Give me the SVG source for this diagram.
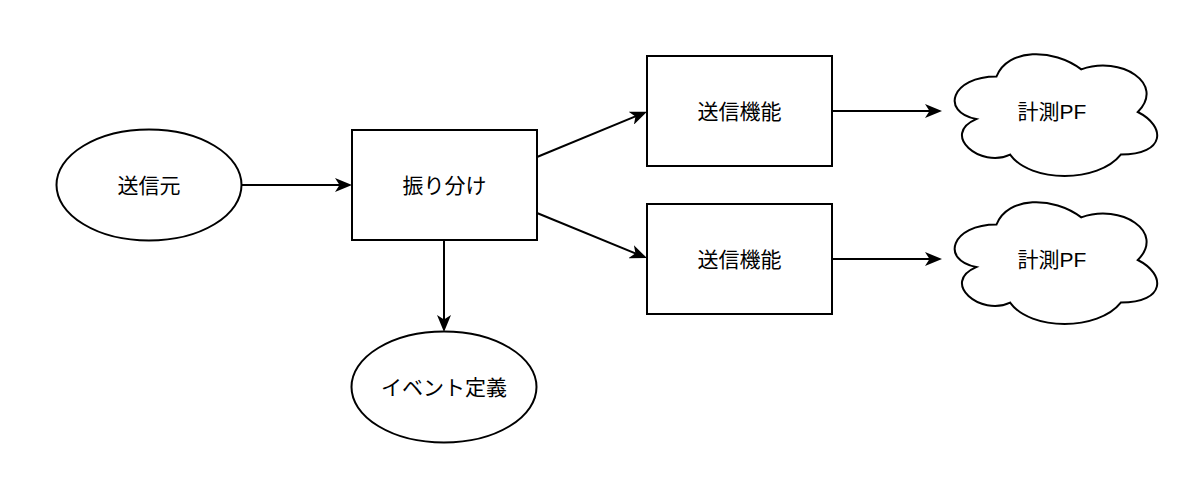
<svg xmlns="http://www.w3.org/2000/svg" width="1200" height="498" viewBox="0 0 1200 498">
<style>
.shape{fill:#fff;stroke:#000;stroke-width:2}
.edge{fill:none;stroke:#000;stroke-width:2}
.lbl{font-family:"Liberation Sans","Noto Sans CJK JP",sans-serif;font-size:21px;fill:#000;text-anchor:middle;dominant-baseline:central}
</style>
<defs>
<marker id="arr" markerUnits="userSpaceOnUse" markerWidth="17" markerHeight="14" viewBox="0 0 17 14" refX="13" refY="7" orient="auto">
<path d="M0,0 L17,7 L0,14 L4.5,7 Z" fill="#000"/>
</marker>
</defs>
<rect width="1200" height="498" fill="#fff"/>
<g id="edges">
<path class="edge" d="M242,185 L348,185" marker-end="url(#arr)"/>
<path class="edge" d="M444,240 L444,328" marker-end="url(#arr)"/>
<path class="edge" d="M537,157 L643.3,113.2" marker-end="url(#arr)"/>
<path class="edge" d="M537,213 L643.3,256.6" marker-end="url(#arr)"/>
<path class="edge" d="M832,111 L938,111" marker-end="url(#arr)"/>
<path class="edge" d="M832,259 L938,259" marker-end="url(#arr)"/>
</g>
<g id="source">
<ellipse class="shape" cx="149" cy="185" rx="92.5" ry="55.5"/>
<text class="lbl" x="149" y="185">送信元</text>
</g>
<g id="dispatcher">
<rect class="shape" x="352" y="130" width="185" height="110"/>
<text class="lbl" x="444.5" y="185">振り分け</text>
</g>
<g id="event">
<ellipse class="shape" cx="444" cy="387" rx="92.5" ry="55.5"/>
<text class="lbl" x="444" y="387">イベント定義</text>
</g>
<g id="sender1">
<rect class="shape" x="647" y="56" width="185" height="110"/>
<text class="lbl" x="739.5" y="111">送信機能</text>
</g>
<g id="sender2">
<rect class="shape" x="647" y="204" width="185" height="110"/>
<text class="lbl" x="739.5" y="259">送信機能</text>
</g>
<g id="cloud1" transform="translate(940,41)">
<path class="shape" d="M56.5,35.5 C11.3,35.5 0,71 36.2,78.1 C0,93.7 40.7,127.8 70.1,113.6 C90.4,142 158.2,142 180.8,113.6 C226,113.6 226,85.2 197.8,71 C226,42.6 180.8,14.2 141.3,28.4 C113,7.1 67.8,7.1 56.5,35.5 Z"/>
<text class="lbl" x="112" y="70">計測PF</text>
</g>
<g id="cloud2" transform="translate(940,189)">
<path class="shape" d="M56.5,35.5 C11.3,35.5 0,71 36.2,78.1 C0,93.7 40.7,127.8 70.1,113.6 C90.4,142 158.2,142 180.8,113.6 C226,113.6 226,85.2 197.8,71 C226,42.6 180.8,14.2 141.3,28.4 C113,7.1 67.8,7.1 56.5,35.5 Z"/>
<text class="lbl" x="112" y="70">計測PF</text>
</g>
</svg>
